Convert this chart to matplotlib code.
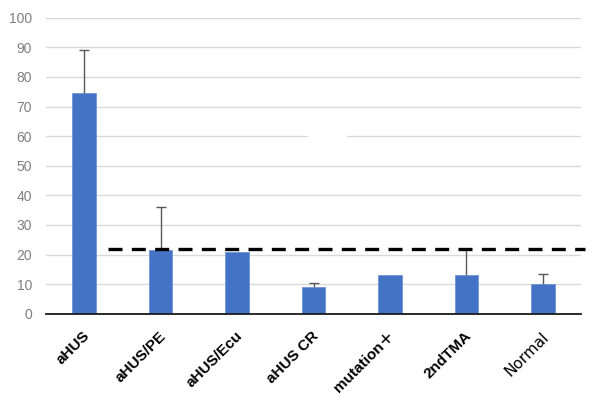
import matplotlib
matplotlib.use("Agg")
import numpy as np
import matplotlib.pyplot as plt
import matplotlib.transforms as mtransforms
from matplotlib.patches import Rectangle

categories = ["aHUS", "aHUS/PE", "aHUS/Ecu", "aHUS CR", "mutation＋", "2ndTMA", "Normal"]
values = [74.5, 21.5, 21.0, 9.0, 13.0, 13.0, 10.0]
err_upper = [14.5, 14.5, 0.0, 1.3, 0.0, 9.0, 3.5]
cutoff = 22.0
yticks = [0, 10, 20, 30, 40, 50, 60, 70, 80, 90, 100]

plt.rcParams['font.family'] = ['Liberation Sans', 'Noto Sans CJK JP', 'DejaVu Sans']

fig = plt.figure(figsize=(5.94, 3.94), dpi=100)
ax = fig.add_axes([46/594, 1 - 313.7/394, (581 - 46)/594, (313.7 - 17.7)/394])

x = np.arange(len(categories))
vals = np.array(values)
errs = np.array(err_upper)
ax.bar(x, vals, width=0.31, color='#4472C4', edgecolor='#6f94d8', linewidth=0.6, zorder=3)
m = errs > 0
eb = ax.errorbar(x[m], vals[m], yerr=[np.zeros(m.sum()), errs[m]], fmt='none',
                 ecolor='#595959', elinewidth=1.0, capsize=3.5, capthick=1.0, zorder=4)
for cl in eb[1]:
    yd = np.asarray(cl.get_ydata(), dtype=float)
    if np.allclose(yd, vals[m]):
        cl.set_visible(False)

ax.plot([0.31, 6.55], [cutoff, cutoff], color='black', linewidth=2.4,
        dashes=(4.2, 2.8), clip_on=False, zorder=5)

ax.set_xlim(-0.5, 6.5)
ax.set_ylim(0, 100)
ax.set_yticks(yticks)
ax.set_yticklabels([str(t) for t in yticks], color='#7f7f7f', fontsize=10)
ax.tick_params(axis='y', length=0, pad=10)
ax.tick_params(axis='x', length=0, pad=4)
ax.grid(axis='y', color='#d9d9d9', linewidth=1.0, zorder=0)
ax.set_axisbelow(True)
for s in ['top', 'right', 'left']:
    ax.spines[s].set_visible(False)
ax.spines['bottom'].set_color('#1a1a1a')
ax.spines['bottom'].set_linewidth(1.3)
ax.spines['bottom'].set_zorder(6)

# white gap in the 60 gridline
ax.add_patch(Rectangle((307.7/594, 1 - 140/394), (347 - 307.7)/594, 8/394,
                       transform=fig.transFigure, facecolor='white', edgecolor='none', zorder=1))

ax.set_xticks(x)
ax.set_xticklabels(categories, rotation=45, ha='right', va='top', rotation_mode='anchor',
                   fontsize=11, fontweight='bold', color='black')
offset = mtransforms.ScaledTranslation(-1.5/72, -7.0/72, fig.dpi_scale_trans)
for lab in ax.get_xticklabels():
    lab.set_transform(lab.get_transform() + offset)
    if lab.get_text() == "Normal":
        lab.set_fontweight('normal')
        lab.set_family(['DejaVu Sans'])
        lab.set_fontsize(11)

fig.savefig("out.png", dpi=100)
